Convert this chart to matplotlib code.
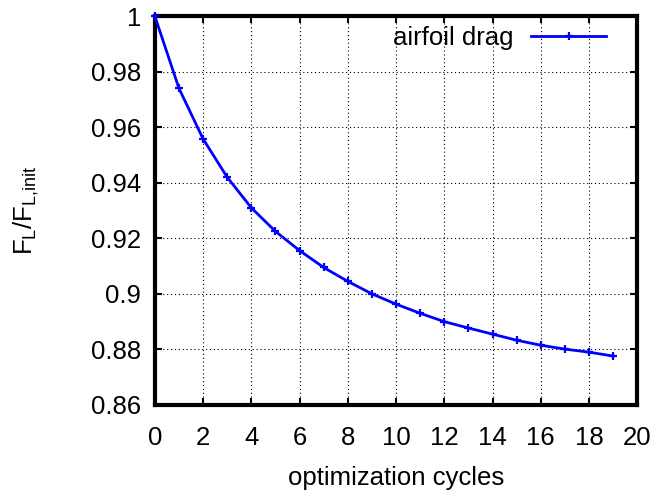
import matplotlib
matplotlib.use('Agg')
import matplotlib.pyplot as plt

plt.rcParams['font.family'] = ['Liberation Sans', 'DejaVu Sans']
plt.rcParams['mathtext.fontset'] = 'custom'
plt.rcParams['mathtext.rm'] = 'Liberation Sans'

cycles = list(range(20))
drag = [1.0, 0.974, 0.9558, 0.942, 0.931, 0.9225, 0.9156, 0.9095, 0.9045, 0.900,
        0.8963, 0.893, 0.890, 0.8877, 0.8855, 0.8833, 0.8815, 0.8801, 0.879, 0.8776]
xticks = list(range(0, 21, 2))
yticks = [0.86, 0.88, 0.9, 0.92, 0.94, 0.96, 0.98, 1]
ytick_labels = ['0.86', '0.88', '0.9', '0.92', '0.94', '0.96', '0.98', '1']

fig = plt.figure(figsize=(6.59, 4.92), dpi=100)
ax = fig.add_axes([0.235, 0.177, 0.732, 0.790])

ax.plot(cycles, drag, color='#0000ff', lw=2, marker='+', ms=6, mew=1.6,
        label='airfoil drag', clip_on=False, zorder=3)

ax.set_xlim(0, 20)
ax.set_ylim(0.86, 1.0)
ax.set_xticks(xticks)
ax.set_yticks(yticks)
ax.set_yticklabels(ytick_labels)
ax.tick_params(direction='in', length=5, width=1.5, top=True, right=True,
               labelsize=18.5)
ax.tick_params(axis='x', pad=15)
ax.tick_params(axis='y', pad=10)
ax.grid(True, color='black', linestyle=(0, (1, 2.5)), lw=0.8)
for s in ax.spines.values():
    s.set_linewidth(3)

ax.set_xlabel('optimization cycles', fontsize=18.5, labelpad=12)
ax.set_ylabel(r'$\mathregular{F_L/F_{L{,}init}}$', fontsize=18.5, labelpad=36)

leg = ax.legend(loc='upper right', bbox_to_anchor=(0.983, 1.035), frameon=False,
                markerfirst=False, fontsize=18.5, handlelength=2.9, handletextpad=0.7)

fig.savefig('out.png', dpi=100)
